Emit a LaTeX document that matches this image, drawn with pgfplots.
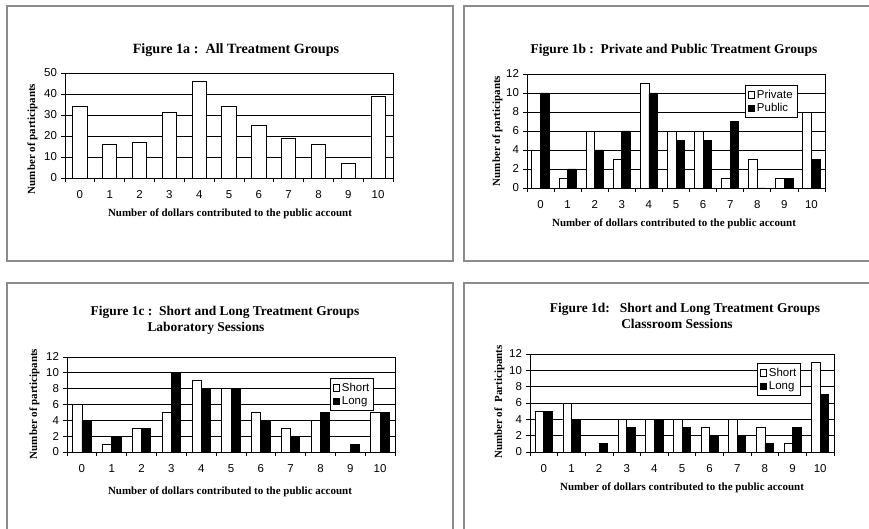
\documentclass[border=0pt]{standalone}
\usepackage{fontspec}
\setmainfont{Liberation Serif}
\setsansfont{Liberation Sans}
\usepackage{pgfplots}
\pgfplotsset{compat=1.18}

\pgfplotsset{
  panel/.style={
    scale only axis, anchor=south west,
    xmin=-0.5, xmax=10.5, ymin=0,
    axis line style={black, line width=0.8bp},
    tick align=outside,
    xtick pos=bottom, ytick pos=left,
    major tick length=4bp,
    tick style={black, line width=0.8bp},
    xtick={-0.5,0.5,...,10.5}, xticklabels={},
    extra x ticks={0,1,2,3,4,5,6,7,8,9,10},
    extra x tick labels={0,1,2,3,4,5,6,7,8,9,10},
    extra x tick style={major tick length=0pt},
    ymajorgrids, major grid style={black, line width=0.8bp},
    ticklabel style={font=\sffamily\fontsize{11.5}{13}\selectfont},
    /pgf/number format/assume math mode=true,
    xticklabel style={anchor=base, yshift=-21bp},
    yticklabel style={anchor=east, xshift=-0.5bp},
    legend cell align=left,
  },
  lg/.style={legend image code/.code={\draw[##1, line width=0.6bp] (0bp,-3.2bp) rectangle (6.4bp,3.2bp);}},
  leg/.style={legend style={draw=black, line width=0.7bp, fill=white,
     font=\sffamily\fontsize{11.5}{13}\selectfont, inner sep=2.5bp, row sep=0bp,
     /tikz/every even column/.append style={column sep=0bp}}},
}
\newcommand{\ttl}{\bfseries\fontsize{13.5}{15}\selectfont}
\newcommand{\lbl}{\bfseries\fontsize{11}{13}\selectfont}

\begin{document}
\begin{tikzpicture}[x=1bp,y=1bp]
\path[use as bounding box] (0,0) rectangle (869,529);
% panel frames
\begin{scope}[draw=black!45, line width=1.8bp]
\draw (7,523) rectangle (453,268);
\draw (869,268) -- (464,268) -- (464,523) -- (869,523);
\draw (7,0) -- (7,246) -- (453,246) -- (453,0);
\draw (464,0) -- (464,246) -- (869,246);
\end{scope}

% ---------- Figure 1a ----------
\begin{axis}[panel, at={(65bp,351bp)}, width=328bp, height=105bp,
  ymax=50, ytick={0,10,...,50}, ybar, bar width=0.48]
\addplot[fill=white, draw=black, line width=0.8bp] coordinates
 {(0,34) (1,16) (2,17) (3,31) (4,46) (5,34) (6,25) (7,19) (8,16) (9,7) (10,39)};
\end{axis}
\node[font=\bfseries\fontsize{14.2}{16}\selectfont, anchor=base] at (236,475) {Figure 1a :\ \ All Treatment Groups};
\node[font=\lbl, anchor=base] at (230,312) {Number of dollars contributed to the public account};
\node[font=\lbl, anchor=base, rotate=90] at (35,390) {Number of participants};

% ---------- Figure 1b ----------
\begin{axis}[panel, leg, at={(527bp,341bp)}, width=298bp, height=114bp,
  ymax=12, ytick={0,2,...,12}, ybar=0pt, bar width=0.32,
  legend style={at={(0.732,0.904)}, anchor=north west}]
\addplot[fill=white, draw=black, line width=0.8bp, lg] coordinates
 {(0,4) (1,1) (2,6) (3,3) (4,11) (5,6) (6,6) (7,1) (8,3) (9,1) (10,8)};
\addplot[fill=black, draw=black, line width=0.8bp, lg] coordinates
 {(0,10) (1,2) (2,4) (3,6) (4,10) (5,5) (6,5) (7,7) (8,0) (9,1) (10,3)};
\legend{Private, Public}
\end{axis}
\node[font=\ttl, anchor=base] at (674,475) {Figure 1b :\ \ Private and Public Treatment Groups};
\node[font=\lbl, anchor=base] at (674,302) {Number of dollars contributed to the public account};
\node[font=\lbl, anchor=base, rotate=90] at (500,398) {Number of participants};

% ---------- Figure 1c ----------
\begin{axis}[panel, leg, at={(67bp,77bp)}, width=328bp, height=95bp,
  ymax=12, ytick={0,2,...,12}, ybar=0pt, bar width=0.31,
  legend style={at={(0.802,0.779)}, anchor=north west}]
\addplot[fill=white, draw=black, line width=0.8bp, lg] coordinates
 {(0,6) (1,1) (2,3) (3,5) (4,9) (5,8) (6,5) (7,3) (8,4) (9,0) (10,5)};
\addplot[fill=black, draw=black, line width=0.8bp, lg] coordinates
 {(0,4) (1,2) (2,3) (3,10) (4,8) (5,8) (6,4) (7,2) (8,5) (9,1) (10,5)};
\legend{Short, Long}
\end{axis}
\node[font=\ttl, anchor=base] at (225,213) {Figure 1c :\ \ Short and Long Treatment Groups};
\node[font=\ttl, anchor=base] at (206,197) {Laboratory Sessions};
\node[font=\lbl, anchor=base] at (230,34) {Number of dollars contributed to the public account};
\node[font=\lbl, anchor=base, rotate=90] at (37,125) {Number of participants};

% ---------- Figure 1d ----------
\begin{axis}[panel, leg, at={(530bp,77bp)}, width=304bp, height=98bp,
  ymax=12, ytick={0,2,...,12}, ybar=0pt, bar width=0.31,
  legend style={at={(0.747,0.908)}, anchor=north west}]
\addplot[fill=white, draw=black, line width=0.8bp, lg] coordinates
 {(0,5) (1,6) (2,0) (3,4) (4,4) (5,4) (6,3) (7,4) (8,3) (9,1) (10,11)};
\addplot[fill=black, draw=black, line width=0.8bp, lg] coordinates
 {(0,5) (1,4) (2,1) (3,3) (4,4) (5,3) (6,2) (7,2) (8,1) (9,3) (10,7)};
\legend{Short, Long}
\end{axis}
\node[font=\ttl, anchor=base] at (685,216) {Figure 1d:\ \ \ Short and Long Treatment Groups};
\node[font=\ttl, anchor=base] at (677,200) {Classroom Sessions};
\node[font=\lbl, anchor=base] at (682,38) {Number of dollars contributed to the public account};
\node[font=\lbl, anchor=base, rotate=90] at (502,127) {Number of\ \ Participants};
\end{tikzpicture}
\end{document}
